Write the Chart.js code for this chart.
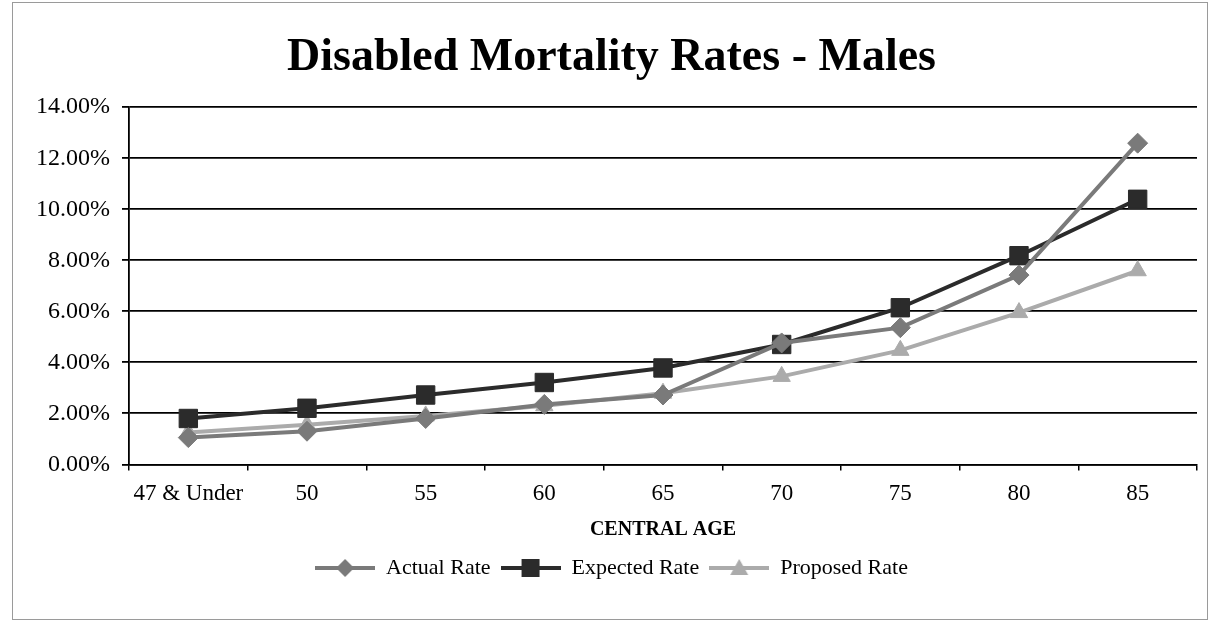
<!DOCTYPE html>
<html>
<head>
<meta charset="utf-8">
<script src="https://cdn.jsdelivr.net/npm/chart.js@4.4.0/dist/chart.umd.min.js"></script>
<style>
html,body{margin:0;padding:0;background:#fff;}
#wrap{position:absolute;left:0;top:0;width:1211px;height:624px;}
#frame{position:absolute;left:12px;top:2px;width:1196px;height:618px;border:1px solid #9a9a9a;box-sizing:border-box;pointer-events:none;}
</style>
</head>
<body>
<div id="wrap"><canvas id="c" width="1211" height="624"></canvas><div id="frame"></div></div>
<script>
const categories = ['47 & Under','50','55','60','65','70','75','80','85'];
const actualRate   = [1.05, 1.30, 1.80, 2.35, 2.72, 4.76, 5.36, 7.42, 12.59];
const expectedRate = [1.80, 2.20, 2.72, 3.21, 3.78, 4.70, 6.14, 8.18, 10.39];
const proposedRate = [1.25, 1.55, 1.90, 2.30, 2.79, 3.45, 4.47, 5.95, 7.59];
const yTicks = [0, 2, 4, 6, 8, 10, 12, 14];

const SERIF = "'Liberation Serif','Times New Roman',serif";
const colActual = '#7a7a7a', colExpected = '#2b2b2b', colProposed = '#ababab';

function legendIcon(color, style){
  const c = document.createElement('canvas');
  c.width = 60; c.height = 20;
  const g = c.getContext('2d');
  g.strokeStyle = color; g.lineWidth = 4;
  g.beginPath(); g.moveTo(0,10); g.lineTo(60,10); g.stroke();
  g.fillStyle = color;
  g.beginPath();
  if(style==='rectRot'){ g.moveTo(30,1); g.lineTo(39,10); g.lineTo(30,19); g.lineTo(21,10); }
  else if(style==='rect'){ g.rect(21,1,18,18); }
  else { g.moveTo(30,1); g.lineTo(39,17); g.lineTo(21,17); }
  g.closePath(); g.fill();
  return c;
}

const ds = (label, data, color, style, r) => ({
  label, data, borderColor: color, backgroundColor: color,
  borderWidth: 4, pointStyle: style, pointRadius: r, pointHoverRadius: r,
  pointBackgroundColor: color, pointBorderColor: color, pointBorderWidth: 1, tension: 0,
  icon: legendIcon(color, style)
});

new Chart(document.getElementById('c'), {
  type: 'line',
  data: {
    labels: categories,
    datasets: [
      ds('Actual Rate', actualRate, colActual, 'rectRot', 10),
      ds('Expected Rate', expectedRate, colExpected, 'rect', 13),
      ds('Proposed Rate', proposedRate, colProposed, 'triangle', 10)
    ]
  },
  options: {
    responsive: false,
    animation: false,
    layout: { padding: { left: 24, right: 12, top: 31, bottom: 35 } },
    plugins: {
      title: {
        display: true, text: 'Disabled Mortality Rates - Males', color: '#000',
        font: { family: SERIF, size: 46, weight: 'bold' },
        padding: { top: 0, bottom: 21 }
      },
      legend: {
        position: 'bottom',
        labels: {
          color: '#000', font: { family: SERIF, size: 22 },
          usePointStyle: true, pointStyleWidth: 60, boxHeight: 20, padding: 10,
          generateLabels: (chart) => chart.data.datasets.map((d, i) => ({
            text: d.label, pointStyle: d.icon, fillStyle: d.borderColor,
            strokeStyle: d.borderColor, lineWidth: 0, hidden: false, datasetIndex: i, fontColor: '#000'
          }))
        }
      },
      tooltip: { enabled: false }
    },
    scales: {
      x: {
        offset: true,
        grid: { offset: true, drawOnChartArea: false, drawTicks: true, tickLength: 6, color: '#000', lineWidth: 1.5 },
        border: { color: '#000', width: 1.5 },
        ticks: { color: '#000', font: { family: SERIF, size: 23 }, padding: 10, maxRotation: 0, autoSkip: false },
        title: { display: true, text: 'CENTRAL AGE', color: '#000', font: { family: SERIF, size: 20, weight: 'bold' }, padding: { top: 0, bottom: 5 } }
      },
      y: {
        min: 0, max: 14,
        afterBuildTicks: (axis) => { axis.ticks = yTicks.map(v => ({ value: v })); },
        grid: { color: '#000', lineWidth: 1.8, drawTicks: true, tickLength: 7 },
        border: { color: '#000', width: 1.8 },
        ticks: { color: '#000', font: { family: SERIF, size: 24 }, padding: 12,
          callback: (v) => Number(v).toFixed(2) + '%' }
      }
    }
  }
});
</script>
</body>
</html>
